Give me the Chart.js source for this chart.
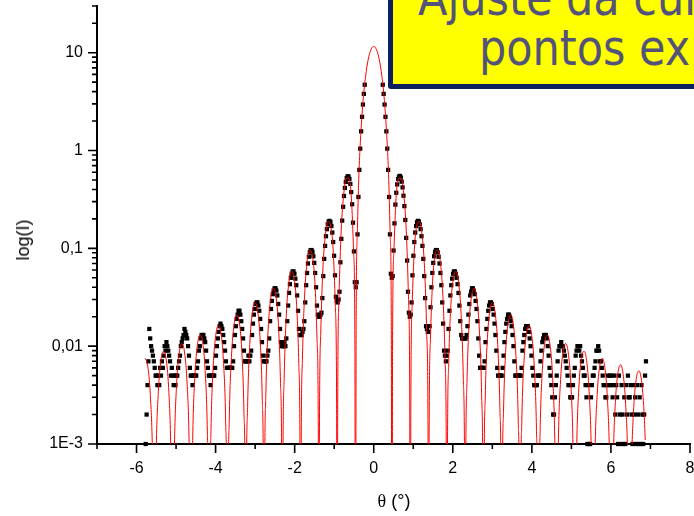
<!DOCTYPE html>
<html lang="pt">
<head>
<meta charset="utf-8">
<title>Ajuste da curva teórica aos pontos experimentais</title>
<script src="https://cdn.jsdelivr.net/npm/chart.js@4.4.1/dist/chart.umd.min.js"></script>
<style>
  html, body { margin: 0; padding: 0; background: #fff; }
  #stage { position: relative; width: 694px; height: 516px; overflow: hidden; }
  #plot { position: absolute; left: 0; top: 0; }
  .axis-title { position: absolute; font-family: "Liberation Sans", Arial, sans-serif; font-size: 18px; color: #000; white-space: nowrap; line-height: 1; }
  #yTitle { left: 23px; top: 240px; transform: translate(-50%, -50%) rotate(-90deg); }
  #xTitle { left: 394px; top: 501px; transform: translate(-50%, -50%); }
  #xTitle .sym { font-family: "Liberation Serif", "Times New Roman", serif; }
  #banner { position: absolute; left: 388px; top: -70px; width: 420px; height: 149px; background: #ffff00; border: 5px solid #0c1f5e; border-radius: 0 0 0 3px; }
  .banner-line { position: absolute; font-family: "DejaVu Sans", Verdana, sans-serif; font-size: 50px; line-height: 50px; color: #53537a; white-space: nowrap; transform-origin: left center; transform: scaleX(0.86); }
</style>
</head>
<body>
<div id="stage">
  <canvas id="plot" width="694" height="516"></canvas>
  <div id="yTitle" class="axis-title">log(I)</div>
  <div id="xTitle" class="axis-title"><span class="sym">θ</span> (°)</div>
  <div id="banner"></div>
  <div class="banner-line" style="left:418px; top:-27px;">Ajuste da curva teórica aos</div>
  <div class="banner-line" style="left:479px; top:23px;">pontos experimentais</div>
</div>
<script>
// Fitted diffraction curve: angle (degrees) and intensity, one line per fringe.
const fitTheta = [
  -5.781,-5.717,-5.652,-5.596,-5.564,-5.55,
  -5.536,-5.504,-5.448,-5.384,-5.319,-5.254,-5.189,-5.134,-5.101,-5.0875,
  -5.074,-5.041,-4.986,-4.921,-4.856,-4.792,-4.727,-4.671,-4.639,-4.625,
  -4.611,-4.579,-4.523,-4.459,-4.394,-4.329,-4.264,-4.209,-4.176,-4.1625,
  -4.149,-4.116,-4.061,-3.996,-3.931,-3.867,-3.802,-3.746,-3.714,-3.7,
  -3.686,-3.654,-3.598,-3.534,-3.469,-3.404,-3.339,-3.284,-3.251,-3.2375,
  -3.224,-3.191,-3.136,-3.071,-3.006,-2.942,-2.877,-2.821,-2.789,-2.775,
  -2.761,-2.729,-2.673,-2.609,-2.544,-2.479,-2.414,-2.359,-2.326,-2.3125,
  -2.299,-2.266,-2.211,-2.146,-2.081,-2.017,-1.952,-1.896,-1.864,-1.85,
  -1.836,-1.804,-1.748,-1.684,-1.619,-1.554,-1.489,-1.434,-1.401,-1.3875,
  -1.374,-1.341,-1.286,-1.221,-1.156,-1.092,-1.027,-0.971,-0.939,-0.925,
  -0.911,-0.879,-0.823,-0.759,-0.694,-0.629,-0.564,-0.509,-0.476,-0.4625,
  -0.444,-0.416,-0.384,-0.347,-0.2775,-0.208,-0.139,-0.069,0,0.069,0.139,0.208,0.2775,0.347,0.384,0.416,0.444,
  0.4625,0.476,0.509,0.564,0.629,0.694,0.759,0.823,0.879,0.911,
  0.925,0.939,0.971,1.027,1.092,1.156,1.221,1.286,1.341,1.374,
  1.3875,1.401,1.434,1.489,1.554,1.619,1.684,1.748,1.804,1.836,
  1.85,1.864,1.896,1.952,2.017,2.081,2.146,2.211,2.266,2.299,
  2.3125,2.326,2.359,2.414,2.479,2.544,2.609,2.673,2.729,2.761,
  2.775,2.789,2.821,2.877,2.942,3.006,3.071,3.136,3.191,3.224,
  3.2375,3.251,3.284,3.339,3.404,3.469,3.534,3.598,3.654,3.686,
  3.7,3.714,3.746,3.802,3.867,3.931,3.996,4.061,4.116,4.149,
  4.1625,4.176,4.209,4.264,4.329,4.394,4.459,4.523,4.579,4.611,
  4.625,4.639,4.671,4.727,4.792,4.856,4.921,4.986,5.041,5.074,
  5.0875,5.101,5.134,5.189,5.254,5.319,5.384,5.448,5.504,5.536,
  5.55,5.564,5.596,5.652,5.717,5.781,5.846,5.911,5.966,5.999,
  6.0125,6.026,6.059,6.114,6.179,6.244,6.309,6.373,6.429,6.461,
  6.475,6.489,6.521,6.577,6.642,6.706,6.771,6.836,6.868
];
const fitIntensity = [
  0.007522,0.006298,0.003198,0.000767,0.0000719,1e-6,
  0.0000726,0.000793,0.003441,0.007102,0.008887,0.007456,0.003793,0.000911,0.0000856,1e-6,
  0.0000865,0.000945,0.004109,0.008499,0.01066,0.008965,0.004572,0.0011,0.000103,1e-6,
  0.000105,0.001145,0.004992,0.010354,0.013023,0.010983,0.005617,0.001355,0.000128,1e-6,
  0.000129,0.001417,0.006194,0.01289,0.016267,0.013768,0.007067,0.001711,0.000161,1e-6,
  0.000164,0.001798,0.007889,0.016485,0.020894,0.017763,0.00916,0.002226,0.000211,1e-6,
  0.000214,0.002357,0.010388,0.021824,0.027818,0.023788,0.012342,0.003016,0.000286,1e-6,
  0.000292,0.003224,0.014293,0.030249,0.038853,0.033492,0.017524,0.004315,0.000411,1e-6,
  0.000421,0.004674,0.020899,0.044692,0.05804,0.050617,0.026813,0.006676,0.000641,1e-6,
  0.00066,0.007379,0.033419,0.072621,0.095943,0.085229,0.046053,0.011678,0.001134,1e-6,
  0.00118,0.013345,0.06179,0.13806,0.18805,0.17276,0.09689,0.02545,0.002526,1e-6,
  0.00268,0.0311,0.1507,0.3578,0.5224,0.5202,0.3208,0.0928,0.00981,1e-6,
  0.02,0.1386,0.442,1.045,2.95,5.66,8.55,10.77,11.6,10.77,8.55,5.66,2.95,1.045,0.442,0.1386,0.02,
  1e-6,0.00981,0.0928,0.3208,0.5202,0.5224,0.3578,0.1507,0.0311,0.00268,
  1e-6,0.002526,0.02545,0.09689,0.17276,0.18805,0.13806,0.06179,0.013345,0.00118,
  1e-6,0.001134,0.011678,0.046053,0.085229,0.095943,0.072621,0.033419,0.007379,0.00066,
  1e-6,0.000641,0.006676,0.026813,0.050617,0.05804,0.044692,0.020899,0.004674,0.000421,
  1e-6,0.000411,0.004315,0.017524,0.033492,0.038853,0.030249,0.014293,0.003224,0.000292,
  1e-6,0.000286,0.003016,0.012342,0.023788,0.027818,0.021824,0.010388,0.002357,0.000214,
  1e-6,0.000211,0.002226,0.00916,0.017763,0.020894,0.016485,0.007889,0.001798,0.000164,
  1e-6,0.000161,0.001711,0.007067,0.013768,0.016267,0.01289,0.006194,0.001417,0.000129,
  1e-6,0.000128,0.001355,0.005617,0.010983,0.013023,0.010354,0.004992,0.001145,0.000105,
  1e-6,0.000103,0.0011,0.004572,0.008965,0.01066,0.008499,0.004109,0.000945,0.0000865,
  1e-6,0.0000856,0.000911,0.003793,0.007456,0.008887,0.007102,0.003441,0.000793,0.0000726,
  1e-6,0.0000719,0.000767,0.003198,0.006298,0.007522,0.006022,0.002924,0.000674,0.0000619,
  1e-6,0.0000613,0.000654,0.002732,0.005391,0.006449,0.005172,0.002515,0.000581,0.0000533,
  1e-6,0.0000529,0.000565,0.002361,0.004666,0.00559,0.004489,0.002186,0.001098
];

// Measured intensities on a regular angular grid (first angle and step in degrees).
const dataThetaStart = -5.768;
const dataThetaStep = 0.0228;
// Left wing, outermost fringe first.
const intensityLeft = [
  0.001,0.002,0.004,0.007,0.015,0.012,0.010,0.009,0.008,0.007,0.006,0.005,0.005,0.004,
  0.005,0.004,0.006,0.005,0.007,0.006,0.008,0.010,0.009,0.011,0.010,0.009,0.008,0.007,0.005,0.006,0.005,0.004,0.005,0.004,
  0.005,0.005,0.006,0.007,0.008,0.010,0.011,0.012,0.013,0.015,0.014,0.013,0.012,0.010,0.008,0.006,0.005,0.005,0.004,0.005,
  0.005,0.005,0.005,0.006,0.007,0.009,0.010,0.012,0.013,0.013,0.013,0.012,0.011,0.009,0.007,0.006,0.005,0.005,0.004,0.005,
  0.005,0.005,0.005,0.006,0.008,0.010,0.012,0.014,0.016,0.017,0.016,0.015,0.013,0.011,0.009,0.007,0.006,0.006,0.006,0.006,
  0.006,0.006,0.006,0.007,0.010,0.013,0.016,0.019,0.021,0.023,0.023,0.021,0.018,0.015,0.012,0.009,0.007,0.007,0.007,0.007,
  0.008,0.007,0.008,0.009,0.013,0.017,0.021,0.024,0.027,0.028,0.028,0.026,0.023,0.019,0.015,0.011,0.008,0.007,0.007,0.007,
  0.007,0.008,0.009,0.012,0.018,0.024,0.029,0.034,0.037,0.039,0.039,0.037,0.033,0.027,0.021,0.015,0.011,0.010,0.010,0.010,
  0.011,0.010,0.012,0.018,0.026,0.035,0.043,0.050,0.055,0.058,0.058,0.055,0.049,0.042,0.033,0.023,0.015,0.013,0.013,0.013,
  0.014,0.015,0.018,0.028,0.042,0.056,0.070,0.082,0.091,0.096,0.096,0.092,0.083,0.071,0.056,0.040,0.026,0.021,0.020,0.020,
  0.021,0.022,0.031,0.052,0.078,0.106,0.133,0.157,0.176,0.188,0.191,0.185,0.169,0.145,0.116,0.084,0.053,0.032,0.029,0.028,
  0.030,0.036,0.072,0.125,0.192,0.266,0.343,0.415,0.477,0.522,0.545,0.542,0.512,0.455,0.376,0.282,0.183,0.093,0.045,0.040
];
// Central maximum; no readings are kept around the top of the peak.
const intensityCentre = [
  0.045,0.139,0.335,0.634,1.045,1.57,2.21,2.95,3.79,4.70,
  null,null,null,null,null,null,null,null,null,null,null,null,null,null,null,null,null,null,null,
  4.70,3.79,2.95,2.21,1.57,1.045,0.634,0.335,0.139,0.055
];
// Right wing, innermost fringe first.
const intensityRight = [
  0.050,0.052,0.095,0.180,0.280,0.370,0.450,0.510,0.540,0.550,0.530,0.480,0.420,0.345,0.270,0.195,0.128,0.075,0.036,0.022,
  0.020,0.021,0.028,0.053,0.084,0.116,0.145,0.169,0.185,0.191,0.188,0.176,0.157,0.133,0.106,0.078,0.052,0.031,0.016,0.015,
  0.014,0.014,0.016,0.025,0.040,0.056,0.071,0.083,0.092,0.096,0.096,0.091,0.082,0.070,0.056,0.042,0.028,0.017,0.009,0.008,
  0.007,0.008,0.009,0.015,0.023,0.033,0.042,0.049,0.055,0.058,0.058,0.055,0.050,0.043,0.035,0.026,0.018,0.013,0.012,0.012,
  0.012,0.012,0.012,0.013,0.016,0.021,0.027,0.033,0.036,0.039,0.039,0.037,0.034,0.029,0.024,0.018,0.012,0.008,0.006,0.006,
  0.006,0.006,0.006,0.007,0.011,0.015,0.019,0.023,0.026,0.028,0.028,0.027,0.024,0.021,0.017,0.013,0.009,0.006,0.005,0.005,
  0.005,0.005,0.005,0.006,0.008,0.011,0.014,0.017,0.019,0.021,0.021,0.020,0.018,0.016,0.013,0.010,0.007,0.005,0.005,0.005,
  0.005,0.005,0.005,0.005,0.006,0.009,0.011,0.013,0.015,0.016,0.016,0.016,0.014,0.012,0.010,0.008,0.006,0.005,0.004,0.004,
  0.004,0.004,0.005,0.005,0.005,0.007,0.009,0.011,0.012,0.013,0.013,0.013,0.012,0.010,0.008,0.006,0.005,0.004,0.003,0.002,
  0.002,0.003,0.004,0.005,0.007,0.009,0.010,0.010,0.011,0.010,0.010,0.009,0.008,0.007,0.006,0.005,0.004,0.004,0.003,0.003,
  0.003,0.004,0.005,0.006,0.008,0.009,0.010,0.010,0.009,0.010,0.008,0.007,0.006,0.005,0.005,0.004,0.003,0.001,0.004,0.001,
  0.001,0.003,0.004,0.005,0.005,0.006,0.007,0.009,0.009,0.010,0.009,0.007,0.007,0.006,0.005,0.004,0.004,0.003,0.003,0.004,
  0.005,0.004,0.005,0.004,0.005,0.003,0.004,0.005,0.002,0.004,0.003,0.001,0.005,0.002,0.001,0.004,0.002,0.001,0.003,0.001,
  0.004,0.002,0.005,0.003,0.003,0.004,0.002,0.001,0.004,0.002,0.003,0.001,0.004,0.002,0.001,0.003,0.001,0.004,0.002,0.001,
  0.002,0.005,0.007
];

const xTickValues = [-6, -4, -2, 0, 2, 4, 6, 8];
const yTickValues = [0.001, 0.01, 0.1, 1, 10];
const yTickLabels = ['1E-3', '0,01', '0,1', '1', '10'];

const fitPoints = fitTheta.map((t, i) => ({ x: t, y: fitIntensity[i] }));
const measured = intensityLeft.concat(intensityCentre, intensityRight);
const dataPoints = [];
measured.forEach((v, i) => {
  if (v !== null) dataPoints.push({ x: +(dataThetaStart + i * dataThetaStep).toFixed(4), y: v });
});

// Outward tick marks: long at labelled values, short in between.
const tickMarks = {
  id: 'tickMarks',
  afterDraw(chart) {
    const { ctx, chartArea: a, scales } = chart;
    const sx = scales.x, sy = scales.y;
    ctx.save();
    ctx.strokeStyle = '#000';
    ctx.lineWidth = 1.6;
    ctx.beginPath();
    for (let v = -7; v <= 8; v++) {
      const px = sx.getPixelForValue(v);
      const len = v % 2 === 0 ? 9 : 5;
      ctx.moveTo(px, a.bottom);
      ctx.lineTo(px, a.bottom + len);
    }
    for (let e = -3; e <= 1; e++) {
      for (let m = 1; m <= 9; m++) {
        const v = m * Math.pow(10, e);
        if (v > 30.0001) break;
        const py = sy.getPixelForValue(v);
        const len = m === 1 ? 9 : 5;
        ctx.moveTo(a.left, py);
        ctx.lineTo(a.left - len, py);
      }
    }
    ctx.stroke();
    ctx.restore();
  }
};

new Chart(document.getElementById('plot'), {
  type: 'line',
  data: {
    datasets: [
      {
        label: 'ajuste',
        data: fitPoints,
        borderColor: '#ff0000',
        borderWidth: 1,
        pointRadius: 0,
        cubicInterpolationMode: 'monotone',
        fill: false,
        clip: 0
      },
      {
        label: 'experimental',
        data: dataPoints,
        showLine: false,
        pointStyle: 'rect',
        pointRadius: 3,
        pointBackgroundColor: '#000',
        pointBorderWidth: 0,
        borderColor: '#000',
        clip: 4
      }
    ]
  },
  options: {
    responsive: false,
    animation: false,
    events: [],
    layout: { padding: { left: 0, top: 6, right: 2, bottom: 0 } },
    plugins: { legend: { display: false }, tooltip: { enabled: false } },
    scales: {
      x: {
        type: 'linear',
        min: -7,
        max: 8,
        bounds: 'data',
        grid: { display: false, drawTicks: false },
        border: { display: true, color: '#000', width: 2 },
        ticks: {
          padding: 15,
          color: '#000',
          autoSkip: false,
          maxRotation: 0,
          font: { family: '"Liberation Sans", Arial, sans-serif', size: 16 },
          callback: (v) => String(v)
        },
        afterBuildTicks: (s) => { s.ticks = xTickValues.map((v) => ({ value: v })); },
        afterFit: (s) => { s.height = 72; s.paddingLeft = 0; s.paddingRight = 0; }
      },
      y: {
        type: 'logarithmic',
        min: 0.001,
        max: 30,
        bounds: 'data',
        grid: { display: false, drawTicks: false },
        border: { display: true, color: '#000', width: 2 },
        ticks: {
          padding: 14,
          color: '#000',
          autoSkip: false,
          font: { family: '"Liberation Sans", Arial, sans-serif', size: 16 },
          callback: (v, i) => yTickLabels[i]
        },
        afterBuildTicks: (s) => { s.ticks = yTickValues.map((v) => ({ value: v })); },
        afterFit: (s) => { s.width = 97; s.paddingTop = 0; s.paddingBottom = 0; }
      }
    }
  },
  plugins: [tickMarks]
});
</script>
</body>
</html>
